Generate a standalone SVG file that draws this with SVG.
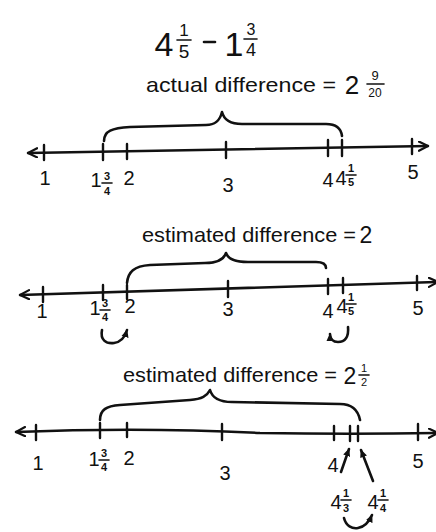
<svg xmlns="http://www.w3.org/2000/svg" width="436" height="532" viewBox="0 0 436 532">
<defs>
<marker id="open" viewBox="0 0 12 12" refX="11" refY="6" markerWidth="11" markerHeight="11" orient="auto-start-reverse" markerUnits="userSpaceOnUse">
<path d="M1,1 L11,6 L1,11" fill="none" stroke="#111" stroke-width="2.4" stroke-linecap="round" stroke-linejoin="round"/>
</marker>
<marker id="solid" viewBox="0 0 10 10" refX="8" refY="5" markerWidth="9" markerHeight="9" orient="auto" markerUnits="userSpaceOnUse">
<path d="M0,1 L9,5 L0,9 Z" fill="#111"/>
</marker>
<style>
.ln{fill:none;stroke:#111;stroke-width:2.6;stroke-linecap:round;stroke-linejoin:round}
.tk{stroke:#111;stroke-width:2.4;stroke-linecap:round}
.fr{stroke:#111;stroke-width:1.6;stroke-linecap:round}
text{font-family:"Liberation Sans","DejaVu Sans",sans-serif;fill:#111;text-anchor:middle}
.big{font-size:34px}
.lab{font-size:20px}
.sm{font-size:11px;font-weight:bold}
.hd{font-size:21px;text-anchor:start}
</style>
</defs>
<rect width="436" height="532" fill="#fff"/>

<!-- title -->
<g id="title">
<text class="big" x="164" y="56">4</text>
<text x="184" y="36" style="font-size:17px">1</text>
<line class="fr" x1="177" y1="40" x2="191" y2="40"/>
<text x="184" y="58" style="font-size:19px">5</text>
<line class="ln" x1="204" y1="42" x2="215" y2="42"/>
<text class="big" x="234" y="56">1</text>
<text x="251" y="35" style="font-size:16px">3</text>
<line class="fr" x1="244" y1="39" x2="257" y2="39"/>
<text x="251" y="56" style="font-size:18px">4</text>
</g>

<!-- section 1 -->
<g id="actual">
<text class="hd" x="146" y="92" textLength="190" lengthAdjust="spacingAndGlyphs">actual difference =</text>
<text x="352" y="94" style="font-size:26px">2</text>
<text x="375" y="80" style="font-size:13px">9</text>
<line class="fr" x1="367" y1="84" x2="384" y2="84"/>
<text x="375" y="97" style="font-size:12px">20</text>
<path class="ln" d="M104,141 C104,131 112,128 130,127 L206,125 C216,125 220,120 222,112 C224,120 230,124 242,124 L326,124 C336,124 341,128 342,136"/>
<path class="ln" d="M28,153 L428,146" marker-start="url(#open)" marker-end="url(#open)"/>
<line class="tk" x1="44" y1="145" x2="44" y2="160"/>
<line class="tk" x1="103" y1="144" x2="103" y2="160"/>
<line class="tk" x1="127" y1="144" x2="127" y2="159"/>
<line class="tk" x1="226" y1="142" x2="226" y2="158"/>
<line class="tk" x1="328" y1="140" x2="328" y2="156"/>
<line class="tk" x1="342" y1="140" x2="342" y2="156"/>
<line class="tk" x1="412" y1="139" x2="412" y2="154"/>
<text class="lab" x="45" y="185">1</text>
<text class="lab" x="96" y="187">1</text>
<text class="sm" x="107" y="180">3</text>
<line class="fr" x1="102" y1="183" x2="112" y2="183"/>
<text class="sm" x="107" y="195">4</text>
<text class="lab" x="129" y="185">2</text>
<text class="lab" x="228" y="192">3</text>
<text class="lab" x="328" y="187">4</text>
<text class="lab" x="341" y="185">4</text>
<text class="sm" x="351" y="172">1</text>
<line class="fr" x1="346" y1="175" x2="356" y2="175"/>
<text class="sm" x="351" y="186">5</text>
<text class="lab" x="413" y="179">5</text>
</g>

<!-- section 2 -->
<g id="estimate1">
<text class="hd" x="142" y="242" textLength="214" lengthAdjust="spacingAndGlyphs">estimated difference =</text>
<text x="366" y="243" style="font-size:23px">2</text>
<path class="ln" d="M127,283 C128,272 134,266 150,265 L205,263 C218,263 224,259 226,253 C228,259 234,262 248,262 L316,262 C322,262 326,264 326,268"/>
<path class="ln" d="M20,295 L438,282" marker-start="url(#open)" marker-end="url(#open)"/>
<line class="tk" x1="43" y1="287" x2="43" y2="302"/>
<line class="tk" x1="103" y1="285" x2="103" y2="300"/>
<line class="tk" x1="127" y1="285" x2="127" y2="299"/>
<line class="tk" x1="228" y1="281" x2="228" y2="297"/>
<line class="tk" x1="328" y1="279" x2="328" y2="294"/>
<line class="tk" x1="343" y1="278" x2="343" y2="293"/>
<line class="tk" x1="417" y1="276" x2="417" y2="290"/>
<text class="lab" x="42" y="318">1</text>
<text class="lab" x="95" y="315">1</text>
<text class="sm" x="105" y="307">3</text>
<line class="fr" x1="100" y1="310" x2="110" y2="310"/>
<text class="sm" x="105" y="321">4</text>
<text class="lab" x="130" y="313">2</text>
<text class="lab" x="228" y="316">3</text>
<text class="lab" x="328" y="318">4</text>
<text class="lab" x="342" y="313">4</text>
<text class="sm" x="351" y="301">1</text>
<line class="fr" x1="346" y1="304" x2="356" y2="304"/>
<text class="sm" x="351" y="315">5</text>
<text class="lab" x="418" y="315">5</text>
<path class="ln" d="M102,330 C100,340 106,344 114,343 C121,342 125,337 127,330" marker-end="url(#solid)"/>
<path class="ln" d="M348,327 C349,337 345,342 338,342 C333,342 330,339 330,334" marker-end="url(#solid)"/>
</g>

<!-- section 3 -->
<g id="estimate2">
<text class="hd" x="123" y="382" textLength="214" lengthAdjust="spacingAndGlyphs">estimated difference =</text>
<text x="350" y="384" style="font-size:23px">2</text>
<text x="364" y="372" style="font-size:11px">1</text>
<line class="fr" x1="359" y1="375" x2="369" y2="375"/>
<text x="364" y="386" style="font-size:11px">2</text>
<path class="ln" d="M100,420 C100,410 106,406 120,405 L190,400 C202,399 207,396 210,390 C212,397 218,402 232,402 L340,404 C352,404 358,410 360,420"/>
<path class="ln" d="M16,432 C120,428 200,430 260,433 C320,434 380,434 438,433" marker-start="url(#open)" marker-end="url(#open)"/>
<line class="tk" x1="36" y1="425" x2="36" y2="440"/>
<line class="tk" x1="100" y1="423" x2="100" y2="438"/>
<line class="tk" x1="127" y1="423" x2="127" y2="437"/>
<line class="tk" x1="222" y1="424" x2="222" y2="440"/>
<line class="tk" x1="334" y1="426" x2="334" y2="440"/>
<line class="tk" x1="350" y1="426" x2="350" y2="441"/>
<line class="tk" x1="358" y1="426" x2="358" y2="441"/>
<line class="tk" x1="418" y1="424" x2="418" y2="440"/>
<text class="lab" x="38" y="470">1</text>
<text class="lab" x="94" y="466">1</text>
<text class="sm" x="104" y="457">3</text>
<line class="fr" x1="99" y1="460" x2="109" y2="460"/>
<text class="sm" x="104" y="471">4</text>
<text class="lab" x="129" y="465">2</text>
<text class="lab" x="225" y="480">3</text>
<text class="lab" x="333" y="472">4</text>
<text class="lab" x="336" y="509">4</text>
<text class="sm" x="346" y="497">1</text>
<line class="fr" x1="341" y1="500" x2="351" y2="500"/>
<text class="sm" x="346" y="512">3</text>
<text class="lab" x="373" y="509">4</text>
<text class="sm" x="383" y="497">1</text>
<line class="fr" x1="378" y1="500" x2="388" y2="500"/>
<text class="sm" x="383" y="512">4</text>
<text class="lab" x="418" y="468">5</text>
<path class="ln" d="M341,472 L349,449" marker-end="url(#solid)"/>
<path class="ln" d="M373,481 L361,450" marker-end="url(#solid)"/>
<path class="ln" d="M344,518 C346,526 352,529 358,528 C364,527 369,522 372,515" marker-end="url(#solid)"/>
</g>
</svg>
